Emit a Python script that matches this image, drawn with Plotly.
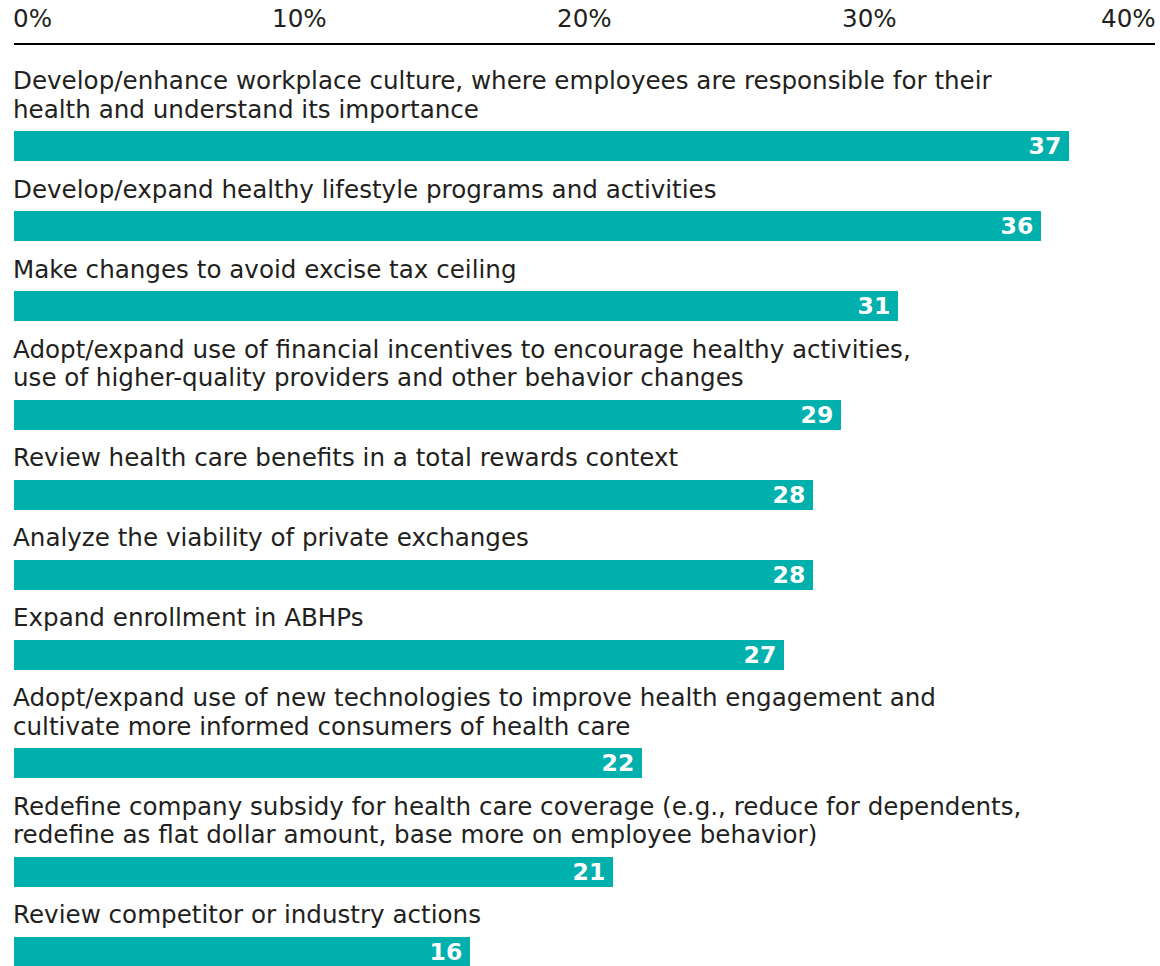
import plotly.graph_objects as go

labels = [
    "Develop/enhance workplace culture, where employees are responsible for their<br>health and understand its importance",
    "Develop/expand healthy lifestyle programs and activities",
    "Make changes to avoid excise tax ceiling",
    "Adopt/expand use of financial incentives to encourage healthy activities,<br>use of higher-quality providers and other behavior changes",
    "Review health care benefits in a total rewards context",
    "Analyze the viability of private exchanges",
    "Expand enrollment in ABHPs",
    "Adopt/expand use of new technologies to improve health engagement and<br>cultivate more informed consumers of health care",
    "Redefine company subsidy for health care coverage (e.g., reduce for dependents,<br>redefine as flat dollar amount, base more on employee behavior)",
    "Review competitor or industry actions",
]
values = [37, 36, 31, 29, 28, 28, 27, 22, 21, 16]
tick_vals = [0, 10, 20, 30, 40]
tick_text = ["0%", "10%", "20%", "30%", "40%"]

# layout constants (pixels)
W, H = 1160, 966
X0_PX, X40_PX = 14, 1155
LINE_H = 28.5
BAR_H = 30
LABEL_TO_BAR = 22
BAR_TO_LABEL = 28
FIRST_LINE = 80.5
AXIS_Y = 44

ppu = (X40_PX - X0_PX) / 40.0
xrange = [-X0_PX / ppu, 40 + (W - X40_PX) / ppu]

FONT = "DejaVu Sans"
LABEL_SIZE = 24.6
TEXT_COLOR = "#231f20"
TEAL = "#00b0ad"

# compute row positions
bar_centers = []
line_positions = []
y = FIRST_LINE
for lab in labels:
    lines = lab.split("<br>")
    rows = []
    for ln in lines:
        rows.append((y, ln))
        y += LINE_H
    y -= LINE_H
    line_positions.append(rows)
    bar_top = y + LABEL_TO_BAR
    bar_centers.append(bar_top + BAR_H / 2)
    y = bar_top + BAR_H + BAR_TO_LABEL

fig = go.Figure()
fig.add_trace(go.Bar(
    x=values,
    y=bar_centers,
    orientation="h",
    width=BAR_H,
    marker=dict(color=TEAL, line=dict(width=0)),
    text=[f"{v}\u2009" for v in values],
    textposition="inside",
    insidetextanchor="end",
    textfont=dict(family=FONT, size=23.5, color="white", weight="bold"),
    constraintext="none",
    hoverinfo="skip",
))

annotations = []
for rows in line_positions:
    for (ly, ln) in rows:
        annotations.append(dict(
            x=0, y=ly, xref="x", yref="y", text=ln, showarrow=False,
            xanchor="left", yanchor="middle", xshift=-3,
            font=dict(family=FONT, size=LABEL_SIZE, color=TEXT_COLOR),
        ))

for i, (tv, tt) in enumerate(zip(tick_vals, tick_text)):
    anchor = "left" if i == 0 else ("right" if i == len(tick_vals) - 1 else "center")
    annotations.append(dict(
        x=tv, y=18, xref="x", yref="y", text=tt, showarrow=False,
        xanchor=anchor, yanchor="middle",
        xshift=(-3 if anchor == "left" else (3 if anchor == "right" else 0)),
        font=dict(family=FONT, size=LABEL_SIZE, color=TEXT_COLOR),
    ))

fig.add_shape(type="line", x0=0, x1=40, y0=AXIS_Y, y1=AXIS_Y,
              xref="x", yref="y", line=dict(color="black", width=2))

fig.update_layout(
    width=W, height=H,
    margin=dict(l=0, r=0, t=0, b=0),
    paper_bgcolor="white", plot_bgcolor="white",
    showlegend=False,
    annotations=annotations,
    xaxis=dict(range=xrange, visible=False, fixedrange=True),
    yaxis=dict(range=[H, 0], visible=False, fixedrange=True),
    bargap=0,
)

fig.write_html("out.html")
